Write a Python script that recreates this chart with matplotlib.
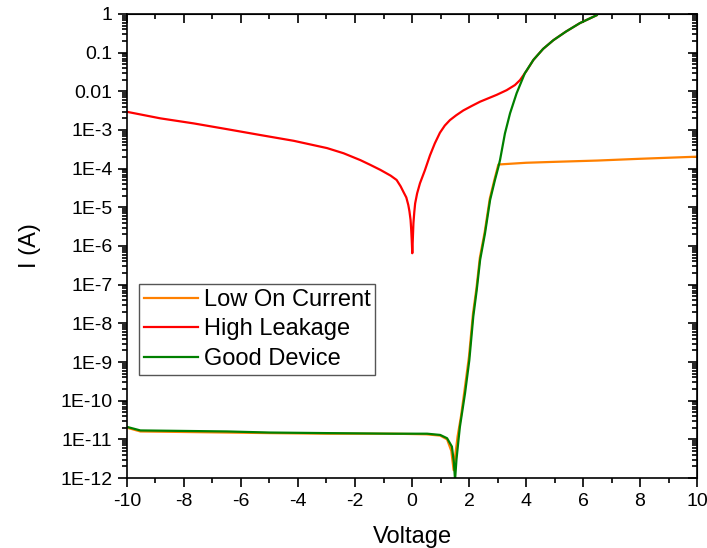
import matplotlib
matplotlib.use('Agg')
import matplotlib.pyplot as plt
from matplotlib.ticker import LogLocator, MultipleLocator, NullFormatter

plt.rcParams['font.family'] = ['Liberation Sans', 'DejaVu Sans']
plt.rcParams['axes.unicode_minus'] = False

# Low On Current
v_low = [-10, -9.53, -8.0, -6.49, -5.0, -2.98, -1.5, -0.64, 0.5, 0.99, 1.23, 1.38, 1.46,
         1.52, 1.60, 1.72, 1.84, 2.00, 2.14, 2.26, 2.38, 2.55, 2.73, 2.90, 3.03,
         4.0, 5.0, 6.5, 8.0, 10.0]
i_low = [2.0e-11, 1.6e-11, 1.55e-11, 1.5e-11, 1.45e-11, 1.4e-11, 1.4e-11, 1.4e-11, 1.35e-11, 1.25e-11,
         1.0e-11, 5e-12, 1.6e-12, 4e-12, 1.2e-11, 4e-11, 1.8e-10, 1.4e-9, 1.8e-8, 8e-8,
         5e-7, 2.3e-6, 1.7e-5, 5.5e-5, 1.28e-4,
         1.42e-4, 1.5e-4, 1.62e-4, 1.8e-4, 2.04e-4]

# High Leakage
v_high = [-10, -8.83, -7.66, -6.49, -5.32, -4.15, -2.98, -2.4, -1.81, -1.47, -1.11, -0.75, -0.54,
          -0.4, -0.3, -0.2, -0.13, -0.09, -0.05, -0.03, -0.01, 0.01, 0.03, 0.05, 0.08, 0.11,
          0.18, 0.28, 0.45, 0.63, 0.80, 0.98, 1.15, 1.33, 1.55, 1.80, 2.10, 2.39, 2.97,
          3.32, 3.61, 3.79, 4.02, 4.26, 4.60, 4.96, 5.40, 5.89, 6.48]
i_high = [2.95e-3, 2.0e-3, 1.48e-3, 1.05e-3, 7.4e-4, 5.25e-4, 3.4e-4, 2.5e-4, 1.66e-4, 1.26e-4, 9.3e-5,
          6.6e-5, 5.1e-5, 3.5e-5, 2.5e-5, 1.8e-5, 1.15e-5, 7.9e-6, 4.7e-6, 2.8e-6, 1.45e-6, 6.5e-7,
          1.6e-6, 3.9e-6, 7.5e-6, 1.26e-5, 2.3e-5, 4.2e-5, 9e-5, 2.2e-4, 4.5e-4, 8.5e-4, 1.3e-3,
          1.8e-3, 2.4e-3, 3.2e-3, 4.2e-3, 5.4e-3, 8.1e-3, 1.07e-2, 1.45e-2, 1.95e-2, 3.4e-2, 6.5e-2,
          0.125, 0.21, 0.35, 0.58, 0.93]

# Good Device
v_good = [-10, -9.53, -8.0, -6.49, -5.0, -2.98, -1.5, -0.64, 0.53, 0.99, 1.23, 1.40, 1.47, 1.51,
          1.56, 1.63, 1.68, 1.86, 2.01, 2.15, 2.27, 2.39, 2.56, 2.74, 2.91, 3.03, 3.09, 3.26,
          3.44, 3.67, 3.96, 4.26, 4.60, 4.96, 5.40, 5.89, 6.48]
i_good = [2.1e-11, 1.7e-11, 1.65e-11, 1.6e-11, 1.5e-11, 1.45e-11, 1.42e-11, 1.4e-11, 1.4e-11, 1.3e-11,
          1.07e-11, 6.5e-12, 2.5e-12, 9e-13, 3e-12, 9.5e-12, 2.1e-11, 1.55e-10, 1.1e-9, 1.5e-8,
          7.2e-8, 4.4e-7, 2.1e-6, 1.55e-5, 5.1e-5, 1.1e-4, 1.7e-4, 8.1e-4, 2.7e-3, 8.9e-3, 2.95e-2,
          6.5e-2, 0.125, 0.21, 0.35, 0.58, 0.93]

y_ticks = [1e-12, 1e-11, 1e-10, 1e-9, 1e-8, 1e-7, 1e-6, 1e-5, 1e-4, 1e-3, 1e-2, 1e-1, 1]
y_labels = ['1E-12', '1E-11', '1E-10', '1E-9', '1E-8', '1E-7', '1E-6', '1E-5', '1E-4',
            '1E-3', '0.01', '0.1', '1']

fig = plt.figure(figsize=(7.07, 5.48), dpi=100)
ax = fig.add_axes([0.1796, 0.1277, 0.8063, 0.8468])

ax.plot(v_low, i_low, color='#FF8000', lw=1.6, label='Low On Current')
ax.plot(v_high, i_high, color='#FF0000', lw=1.6, label='High Leakage')
ax.plot(v_good, i_good, color='#008000', lw=1.6, label='Good Device')

ax.set_yscale('log')
ax.set_xlim(-10, 10)
ax.set_ylim(1e-12, 1)
ax.set_xticks(range(-10, 11, 2))
ax.xaxis.set_minor_locator(MultipleLocator(1))
ax.set_yticks(y_ticks)
ax.set_yticklabels(y_labels)
ax.yaxis.set_minor_locator(LogLocator(base=10, subs=range(2, 10), numticks=50))
ax.yaxis.set_minor_formatter(NullFormatter())

ax.tick_params(which='major', direction='out', length=6.5, width=1.2, labelsize=14, pad=4)
ax.tick_params(which='minor', direction='out', length=3.5, width=1.2)
for s in ax.spines.values():
    s.set_linewidth(1.2)

# mirrored axes with inward ticks
top = ax.secondary_xaxis('top')
top.set_xticks(range(-10, 11, 2))
top.xaxis.set_minor_locator(MultipleLocator(1))
top.tick_params(which='major', direction='in', length=6.5, width=1.2, labeltop=False)
top.tick_params(which='minor', direction='in', length=3.5, width=1.2)
right = ax.secondary_yaxis('right')
right.set_yticks(y_ticks)
right.yaxis.set_minor_locator(LogLocator(base=10, subs=range(2, 10), numticks=50))
right.yaxis.set_minor_formatter(NullFormatter())
right.tick_params(which='major', direction='in', length=6.5, width=1.2, labelright=False)
right.tick_params(which='minor', direction='in', length=3.5, width=1.2)

ax.set_xlabel('Voltage', fontsize=17, labelpad=12)
ax.set_ylabel('I (A)', fontsize=17, labelpad=14)

leg = ax.legend(loc='upper left', bbox_to_anchor=(0.021, 0.418), borderaxespad=0,
                fontsize=17, fancybox=False, edgecolor='#555555', framealpha=1,
                handlelength=2.3, handletextpad=0.25, borderpad=0.2, labelspacing=0.32)
leg.get_frame().set_linewidth(1.0)

fig.savefig('out.png', dpi=100)
